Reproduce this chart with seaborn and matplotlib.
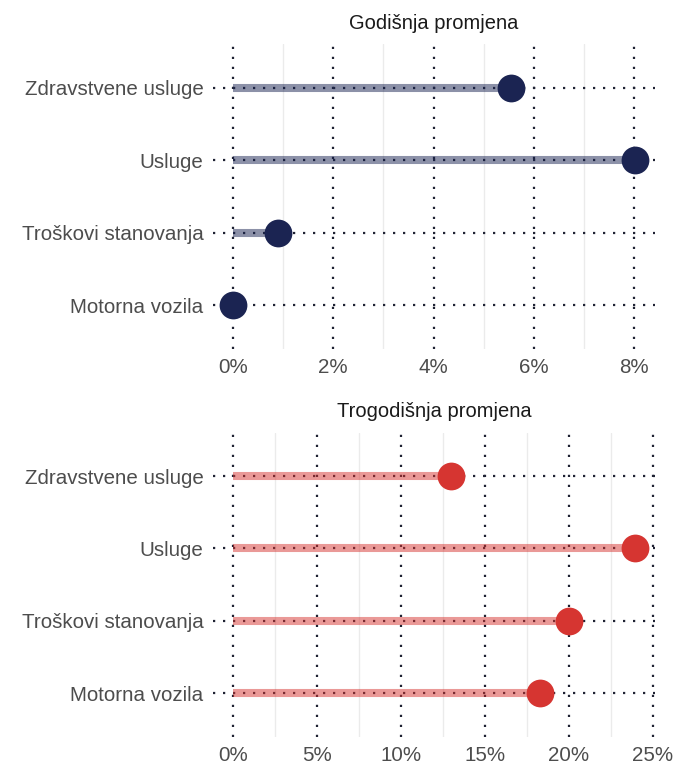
import numpy as np
import pandas as pd
import matplotlib
matplotlib.use('Agg')
import matplotlib.pyplot as plt
import seaborn as sns
from matplotlib.ticker import FuncFormatter, MultipleLocator

# Data
categories = ['Zdravstvene usluge', 'Usluge', 'Troškovi stanovanja', 'Motorna vozila']
annual_change = [5.55, 8.02, 0.9, 0.0]
three_year_change = [12.97, 23.95, 20.04, 18.3]
panel_titles = ['Godišnja promjena', 'Trogodišnja promjena']
tick_steps = [2, 5]

navy = '#1b2452'
red = '#d63531'
colors = [navy, red]

sns.set_theme(style='white')
plt.rcParams['font.family'] = ['Liberation Sans', 'DejaVu Sans']
plt.rcParams['lines.scale_dashes'] = False

fig = plt.figure(figsize=(6.73, 7.68), dpi=100)
ax_top = fig.add_axes([0.3165, 0.5462, 0.6568, 0.3965])
ax_bot = fig.add_axes([0.3165, 0.0410, 0.6568, 0.3957])

dot_kw = dict(color='#1f2233', lw=1.6, ls=(0, (1.6, 5.6)), zorder=1)

for ax, values, title, step, col in zip([ax_top, ax_bot],
                                        [annual_change, three_year_change],
                                        panel_titles, tick_steps, colors):
    df = pd.DataFrame({'Kategorija': categories, 'Promjena': values})
    pos = np.arange(len(df))

    # segments from zero to the value
    ax.hlines(pos, 0, df['Promjena'], color=col, alpha=0.5, lw=5.8, zorder=2)
    sns.stripplot(data=df, x='Promjena', y='Kategorija', order=categories,
                  jitter=False, color=col, size=20, linewidth=0, ax=ax, zorder=3)

    vmax = df['Promjena'].max()
    ax.set_xlim(-0.05 * vmax, vmax * 1.05)
    ax.set_ylim(len(df) - 0.4, -0.6)

    ax.xaxis.set_major_locator(MultipleLocator(step))
    ax.xaxis.set_minor_locator(MultipleLocator(step / 2))
    ax.xaxis.set_major_formatter(FuncFormatter(lambda v, p: f'{v:.0f}%'))

    # grid: light minor lines, dotted major lines
    ax.grid(False)
    lo, hi = ax.get_xlim()
    for t in ax.xaxis.get_minorticklocs():
        if lo <= t <= hi:
            ax.axvline(t, color='#ebebeb', lw=1.0, zorder=0)
    for t in ax.xaxis.get_majorticklocs():
        if lo <= t <= hi:
            ax.axvline(t, **dot_kw)
    for p in pos:
        ax.axhline(p, **dot_kw)

    for s in ax.spines.values():
        s.set_visible(False)
    ax.tick_params(axis='both', which='both', length=0, labelsize=14.8,
                   labelcolor='#4d4d4d')
    ax.tick_params(axis='x', pad=7)
    ax.tick_params(axis='y', pad=7)
    ax.set_xlabel('')
    ax.set_ylabel('')
    ax.set_title(title, fontsize=14.5, color='#1a1a1a', pad=11)

fig.savefig('out.png', dpi=100)
plt.close(fig)
